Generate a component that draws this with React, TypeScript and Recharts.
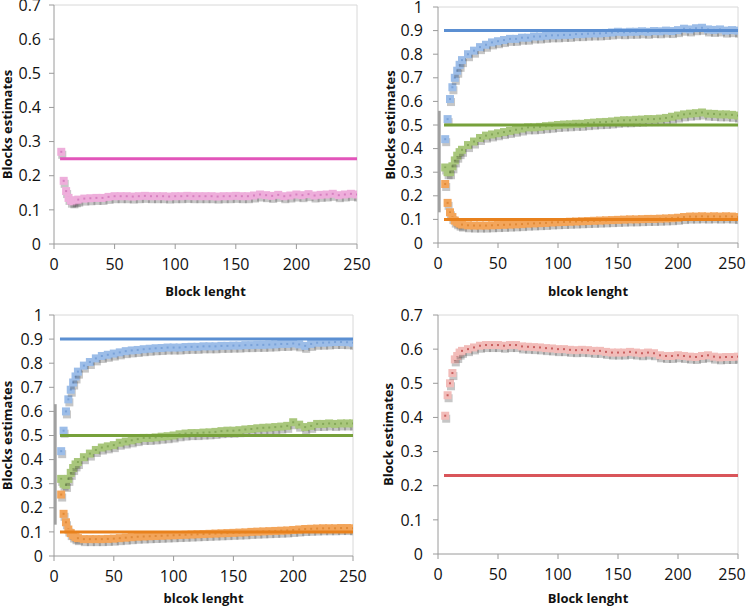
import React from "react";
import { ScatterChart, Scatter, XAxis, YAxis, ReferenceLine } from "recharts";

// block lengths where the estimates were sampled
const blockLen = [6, 8, 10, 12, 14, 16, 18, 20, 25, 30, 35, 40, 45, 50, 55, 60, 65, 70, 75, 80, 85, 90, 95, 100, 105, 110, 115, 120, 125, 130, 135, 140, 145, 150, 155, 160, 165, 170, 175, 180, 185, 190, 195, 200, 205, 210, 215, 220, 225, 230, 235, 240, 245, 250];

const pinkEst = [0.27, 0.185, 0.155, 0.135, 0.127, 0.125, 0.128, 0.13, 0.133, 0.134, 0.135, 0.135, 0.138, 0.14, 0.14, 0.14, 0.139, 0.14, 0.141, 0.14, 0.14, 0.14, 0.139, 0.14, 0.14, 0.141, 0.14, 0.14, 0.14, 0.14, 0.139, 0.14, 0.14, 0.141, 0.14, 0.14, 0.142, 0.145, 0.143, 0.141, 0.144, 0.14, 0.142, 0.145, 0.143, 0.146, 0.142, 0.144, 0.145, 0.147, 0.143, 0.145, 0.147, 0.145];

const blueEstA = [0.44, 0.525, 0.61, 0.66, 0.7, 0.73, 0.755, 0.775, 0.8, 0.815, 0.83, 0.84, 0.85, 0.855, 0.86, 0.865, 0.865, 0.87, 0.87, 0.875, 0.875, 0.878, 0.88, 0.88, 0.882, 0.882, 0.885, 0.885, 0.887, 0.888, 0.888, 0.89, 0.892, 0.895, 0.893, 0.895, 0.895, 0.897, 0.895, 0.898, 0.897, 0.9, 0.898, 0.902, 0.908, 0.905, 0.91, 0.912, 0.905, 0.903, 0.905, 0.9, 0.902, 0.9];
const greenEstA = [0.32, 0.3, 0.3, 0.325, 0.35, 0.37, 0.385, 0.395, 0.415, 0.43, 0.445, 0.455, 0.46, 0.465, 0.47, 0.475, 0.48, 0.485, 0.49, 0.49, 0.492, 0.495, 0.497, 0.5, 0.502, 0.503, 0.505, 0.505, 0.508, 0.51, 0.512, 0.513, 0.515, 0.518, 0.52, 0.52, 0.522, 0.523, 0.525, 0.525, 0.527, 0.53, 0.535, 0.54, 0.545, 0.548, 0.55, 0.553, 0.548, 0.547, 0.545, 0.545, 0.543, 0.54];
const orangeEstA = [0.25, 0.17, 0.13, 0.11, 0.095, 0.088, 0.082, 0.078, 0.075, 0.074, 0.074, 0.074, 0.075, 0.076, 0.077, 0.078, 0.079, 0.08, 0.082, 0.083, 0.084, 0.085, 0.087, 0.088, 0.089, 0.09, 0.091, 0.092, 0.093, 0.094, 0.095, 0.096, 0.097, 0.098, 0.099, 0.1, 0.1, 0.101, 0.102, 0.102, 0.103, 0.104, 0.105, 0.107, 0.11, 0.112, 0.112, 0.113, 0.112, 0.113, 0.112, 0.113, 0.112, 0.11];

const blueEstB = [0.435, 0.52, 0.6, 0.65, 0.69, 0.72, 0.745, 0.765, 0.79, 0.805, 0.82, 0.83, 0.835, 0.84, 0.845, 0.85, 0.853, 0.855, 0.858, 0.86, 0.862, 0.863, 0.865, 0.865, 0.865, 0.867, 0.868, 0.868, 0.87, 0.87, 0.87, 0.872, 0.872, 0.873, 0.873, 0.875, 0.875, 0.876, 0.876, 0.877, 0.878, 0.88, 0.88, 0.882, 0.878, 0.872, 0.88, 0.885, 0.885, 0.886, 0.888, 0.888, 0.887, 0.885];
const greenEstB = [0.32, 0.3, 0.295, 0.32, 0.345, 0.365, 0.38, 0.39, 0.41, 0.425, 0.44, 0.45, 0.455, 0.46, 0.47, 0.475, 0.48, 0.485, 0.49, 0.49, 0.492, 0.495, 0.497, 0.5, 0.505, 0.508, 0.51, 0.51, 0.512, 0.513, 0.515, 0.518, 0.52, 0.52, 0.522, 0.525, 0.527, 0.53, 0.532, 0.533, 0.535, 0.537, 0.54, 0.555, 0.545, 0.535, 0.54, 0.548, 0.548, 0.55, 0.548, 0.55, 0.55, 0.55];
const orangeEstB = [0.255, 0.175, 0.14, 0.11, 0.095, 0.085, 0.078, 0.074, 0.07, 0.07, 0.07, 0.07, 0.071, 0.072, 0.074, 0.076, 0.078, 0.08, 0.081, 0.082, 0.083, 0.084, 0.085, 0.086, 0.087, 0.088, 0.089, 0.09, 0.091, 0.092, 0.093, 0.094, 0.095, 0.096, 0.097, 0.098, 0.1, 0.101, 0.102, 0.103, 0.104, 0.105, 0.106, 0.108, 0.11, 0.112, 0.113, 0.114, 0.115, 0.115, 0.115, 0.116, 0.116, 0.115];

const redEst = [0.405, 0.465, 0.5, 0.53, 0.57, 0.58, 0.59, 0.595, 0.6, 0.605, 0.61, 0.612, 0.612, 0.612, 0.61, 0.612, 0.612, 0.608, 0.607, 0.606, 0.605, 0.603, 0.602, 0.6, 0.6, 0.598, 0.597, 0.598, 0.597, 0.595, 0.595, 0.592, 0.59, 0.59, 0.59, 0.592, 0.59, 0.588, 0.59, 0.588, 0.582, 0.58, 0.58, 0.582, 0.58, 0.578, 0.577, 0.58, 0.582, 0.578, 0.576, 0.577, 0.577, 0.578];

// true values, drawn as horizontal lines from block length 5 to 250
const lineSpan = [5, 250];
const pinkTrue = 0.25;
const blueTrue = 0.9;
const greenTrue = 0.5;
const orangeTrue = 0.1;
const redTrue = 0.23;

// grey bars hugging the y axis
const barA = [0.13, 0.56];
const barB = [0.13, 0.63];

const xTicks = [0, 50, 100, 150, 200, 250];
const yTicks07 = [0, 0.1, 0.2, 0.3, 0.4, 0.5, 0.6, 0.7];
const yTicks1 = [0, 0.1, 0.2, 0.3, 0.4, 0.5, 0.6, 0.7, 0.8, 0.9, 1];

const FONT = "'Open Sans', sans-serif";
const TICK_SIZE = 16;

const palette = {
  pink: { line: "#e255ba", fill: "#eeaedb", dot: "#d680c0" },
  blue: { line: "#5b8fd2", fill: "#9cbde8", dot: "#7aa2d8" },
  green: { line: "#77a13b", fill: "#a9c77c", dot: "#86a85a" },
  orange: { line: "#e8811c", fill: "#f3a55a", dot: "#e08a38" },
  red: { line: "#d9555a", fill: "#f2bcb9", dot: "#c86060" },
};

type Pal = { line: string; fill: string; dot: string };

const pts = (ys: number[]) => blockLen.map((x, i) => ({ x, y: ys[i] }));
const flat = (y: number) => lineSpan.map((x) => ({ x, y }));

function marker(c: Pal) {
  return (p: any) => {
    const { cx, cy } = p;
    if (cx == null || cy == null) return <g />;
    return (
      <g>
        <rect x={cx - 3} y={cy - 1} width={8} height={8} fill="rgba(50,50,50,0.28)" />
        <rect x={cx - 4} y={cy - 4} width={8} height={8} fill={c.fill} />
        <rect x={cx - 1} y={cy - 1} width={2} height={2} fill={c.dot} />
      </g>
    );
  };
}

const none = () => <g />;

// x tick that can pull its last label back inside the picture
function xTick(lastShift: number) {
  return (p: any) => {
    const { x, y, payload } = p;
    const dx = payload.value === 250 ? lastShift : 0;
    return (
      <text x={x + dx} y={y} dy="0.71em" textAnchor="middle" fontSize={TICK_SIZE} fill="#111" fontFamily={FONT}>
        {payload.value}
      </text>
    );
  };
}

const yTick = (p: any) => (
  <text x={p.x} y={p.y} dy="0.355em" textAnchor="end" fontSize={TICK_SIZE} fill="#111" fontFamily={FONT}>
    {p.payload.value}
  </text>
);

type Series = { data: number[]; pal: Pal };

function Panel(props: {
  left: number; top: number; w: number; h: number;
  margin: { top: number; right: number; left: number; bottom: number };
  yWidth: number; xHeight: number; yMax: number; yTicks: number[];
  yTickMargin: number; yLabel: string; yLabelOffset: number; xLabel: string; lastShift: number;
  series: Series[]; lines: { y: number; pal: Pal }[]; bar?: number[]; barX?: number;
}) {
  const labelStyle = { fontWeight: 700, fontSize: 13, fill: "#111", fontFamily: FONT, textAnchor: "middle" as const };
  return (
    <div style={{ position: "absolute", left: props.left, top: props.top }}>
      <ScatterChart width={props.w} height={props.h} margin={props.margin}>
        <XAxis
          type="number" dataKey="x" domain={[0, 250]} ticks={xTicks} height={props.xHeight}
          stroke="#9a9a9a" tick={xTick(props.lastShift)} tickSize={5} tickMargin={10} interval={0}
          allowDataOverflow
          label={{ value: props.xLabel, position: "insideBottom", offset: 4, style: labelStyle }}
        />
        <YAxis
          type="number" dataKey="y" domain={[0, props.yMax]} ticks={props.yTicks} width={props.yWidth}
          stroke="#9a9a9a" tick={yTick} tickSize={5} tickMargin={props.yTickMargin} interval={0}
          allowDataOverflow
          label={{ value: props.yLabel, angle: -90, position: "insideLeft", offset: props.yLabelOffset, style: labelStyle }}
        />
        <ReferenceLine y={props.yMax} stroke="#d8d8d8" />
        <ReferenceLine x={250} stroke="#d8d8d8" />
        {props.bar && (
          <Scatter
            data={props.bar.map((y) => ({ x: props.barX ?? 1, y }))}
            line={{ stroke: "#a0a0a0", strokeWidth: 3 }} shape={none} isAnimationActive={false}
          />
        )}
        {props.series.map((s, i) => (
          <Scatter key={"s" + i} data={pts(s.data)} shape={marker(s.pal)} isAnimationActive={false} />
        ))}
        {props.lines.map((l, i) => (
          <Scatter
            key={"l" + i} data={flat(l.y)} line={{ stroke: l.pal.line, strokeWidth: 3 }}
            shape={none} isAnimationActive={false}
          />
        ))}
      </ScatterChart>
    </div>
  );
}

export default function App() {
  return (
    <div style={{ position: "absolute", left: 0, top: 0, width: 750, height: 607, background: "#fff", fontFamily: FONT }}>
      <Panel
        left={0} top={0} w={375} h={300}
        margin={{ top: 5, right: 18, left: 0, bottom: 0 }}
        yWidth={54} xHeight={56} yMax={0.7} yTicks={yTicks07} yTickMargin={8}
        yLabel="Blocks estimates" yLabelOffset={7} xLabel="Block lenght" lastShift={0}
        series={[{ data: pinkEst, pal: palette.pink }]}
        lines={[{ y: pinkTrue, pal: palette.pink }]}
      />
      <Panel
        left={375} top={0} w={375} h={300}
        margin={{ top: 7, right: 12, left: 0, bottom: 0 }}
        yWidth={63} xHeight={57} yMax={1} yTicks={yTicks1} yTickMargin={10}
        yLabel="Blocks estimates" yLabelOffset={15} xLabel="blcok lenght" lastShift={-6}
        series={[
          { data: blueEstA, pal: palette.blue },
          { data: greenEstA, pal: palette.green },
          { data: orangeEstA, pal: palette.orange },
        ]}
        lines={[
          { y: blueTrue, pal: palette.blue },
          { y: greenTrue, pal: palette.green },
          { y: orangeTrue, pal: palette.orange },
        ]}
        bar={barA} barX={1}
      />
      <Panel
        left={0} top={300} w={375} h={307}
        margin={{ top: 15, right: 22, left: 0, bottom: 0 }}
        yWidth={54} xHeight={51} yMax={1} yTicks={yTicks1} yTickMargin={6}
        yLabel="Blocks estimates" yLabelOffset={7} xLabel="blcok lenght" lastShift={0}
        series={[
          { data: blueEstB, pal: palette.blue },
          { data: greenEstB, pal: palette.green },
          { data: orangeEstB, pal: palette.orange },
        ]}
        lines={[
          { y: blueTrue, pal: palette.blue },
          { y: greenTrue, pal: palette.green },
          { y: orangeTrue, pal: palette.orange },
        ]}
        bar={barB} barX={1}
      />
      <Panel
        left={375} top={300} w={375} h={307}
        margin={{ top: 15, right: 12, left: 0, bottom: 0 }}
        yWidth={63} xHeight={53} yMax={0.7} yTicks={yTicks07} yTickMargin={10}
        yLabel="Block estimates" yLabelOffset={13} xLabel="Block lenght" lastShift={-6}
        series={[{ data: redEst, pal: palette.red }]}
        lines={[{ y: redTrue, pal: palette.red }]}
      />
    </div>
  );
}
